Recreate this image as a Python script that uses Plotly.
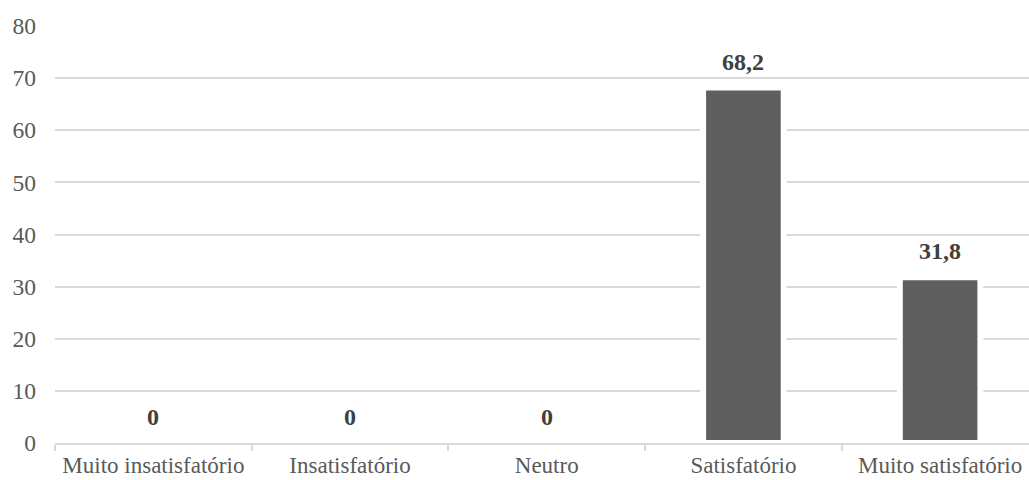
import plotly.graph_objects as go

# Níveis de satisfação e percentual de respostas
categorias = ["Muito insatisfatório", "Insatisfatório", "Neutro", "Satisfatório", "Muito satisfatório"]
percentuais = [0, 0, 0, 68.2, 31.8]
marcas_y = [0, 10, 20, 30, 40, 50, 60, 70, 80]

rotulos = [f"{v:g}".replace(".", ",") for v in percentuais]

fonte = "Liberation Serif"

fig = go.Figure(
    go.Bar(
        x=categorias,
        y=percentuais,
        marker=dict(color="#5f5f5f", line=dict(color="white", width=6)),
        width=0.41,
    )
)

# Rótulos de valor acima de cada barra
for cat, val, txt in zip(categorias, percentuais, rotulos):
    fig.add_annotation(
        x=cat,
        y=val,
        text=f"<b>{txt}</b>",
        showarrow=False,
        yanchor="middle",
        yshift=26,
        font=dict(family=fonte, size=24, color="#404040"),
    )

fig.update_layout(
    width=1029,
    height=480,
    margin=dict(l=55, r=0, t=26, b=37),
    paper_bgcolor="white",
    plot_bgcolor="white",
    showlegend=False,
    font=dict(family=fonte, size=23, color="#595959"),
)

fig.update_xaxes(
    range=[-0.5, 4.452],
    automargin=False,
    showgrid=False,
    showline=True,
    linecolor="#d9d9d9",
    linewidth=1.5,
    ticks="outside",
    tickson="boundaries",
    ticklen=6,
    tickcolor="#d9d9d9",
    tickwidth=1.5,
    ticklabelstandoff=1,
    tickfont=dict(family=fonte, size=23, color="#595959"),
)

fig.update_yaxes(
    range=[0, 80],
    automargin=False,
    tickvals=marcas_y,
    showgrid=True,
    gridcolor="#d9d9d9",
    gridwidth=1.5,
    zeroline=False,
    showline=False,
    ticks="",
    ticklabelstandoff=18,
    tickfont=dict(family=fonte, size=23.5, color="#595959"),
)

fig.write_html("out.html")
